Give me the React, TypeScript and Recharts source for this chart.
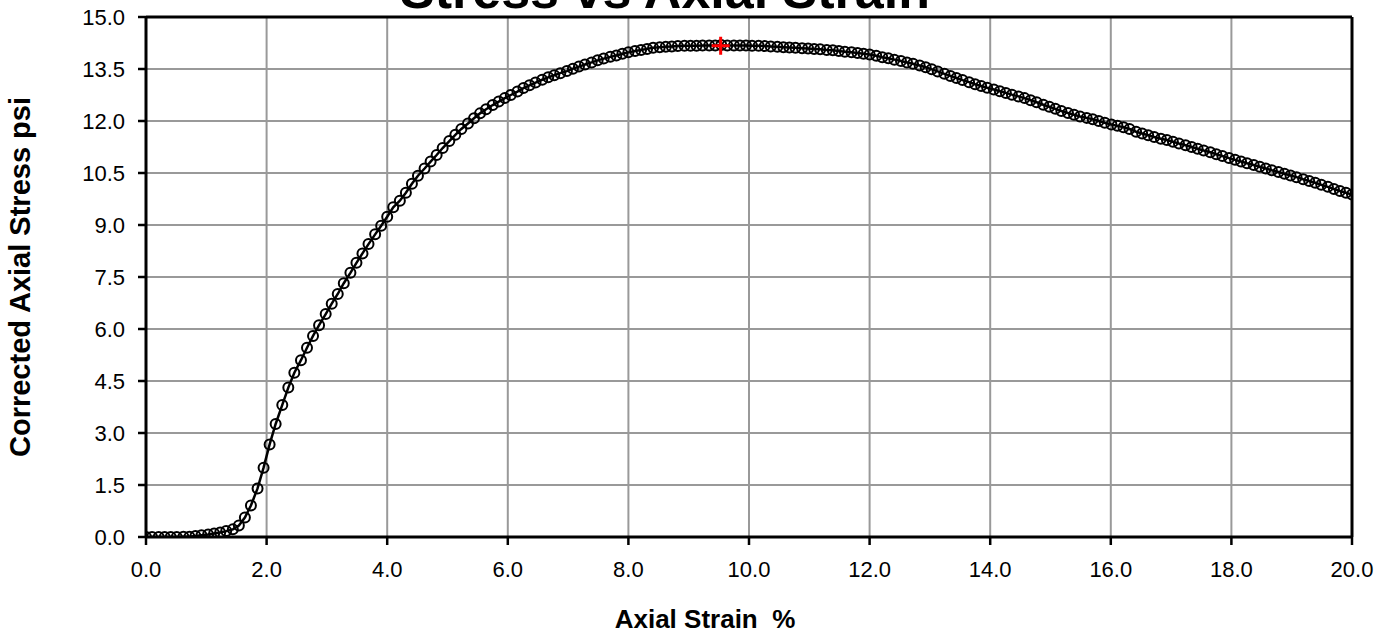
import React from "react";
import {
  ComposedChart, Line, Scatter, XAxis, YAxis, CartesianGrid, ReferenceLine,
} from "recharts";

// strain readings (%)
const STRAIN = [
  0.00, 0.10, 0.21, 0.31, 0.41, 0.51, 0.62, 0.72, 0.82, 0.92,
  1.03, 1.13, 1.23, 1.33, 1.44, 1.54, 1.64, 1.74, 1.85, 1.95,
  2.05, 2.15, 2.26, 2.36, 2.46, 2.57, 2.67, 2.77, 2.87, 2.98,
  3.08, 3.18, 3.28, 3.39, 3.49, 3.59, 3.69, 3.80, 3.90, 4.00,
  4.10, 4.21, 4.31, 4.41, 4.51, 4.62, 4.72, 4.82, 4.92, 5.03,
  5.13, 5.23, 5.34, 5.44, 5.54, 5.64, 5.75, 5.85, 5.95, 6.05,
  6.16, 6.26, 6.36, 6.46, 6.57, 6.67, 6.77, 6.87, 6.98, 7.08,
  7.18, 7.28, 7.39, 7.49, 7.59, 7.70, 7.80, 7.90, 8.00, 8.11,
  8.21, 8.31, 8.41, 8.52, 8.62, 8.72, 8.82, 8.93, 9.03, 9.13,
  9.23, 9.34, 9.44, 9.54, 9.64, 9.75, 9.85, 9.95, 10.05, 10.16,
  10.26, 10.36, 10.47, 10.57, 10.67, 10.77, 10.88, 10.98, 11.08, 11.18,
  11.29, 11.39, 11.49, 11.59, 11.70, 11.80, 11.90, 12.00, 12.11, 12.21,
  12.31, 12.41, 12.52, 12.62, 12.72, 12.83, 12.93, 13.03, 13.13, 13.24,
  13.34, 13.44, 13.54, 13.65, 13.75, 13.85, 13.95, 14.06, 14.16, 14.26,
  14.36, 14.47, 14.57, 14.67, 14.77, 14.88, 14.98, 15.08, 15.18, 15.29,
  15.39, 15.49, 15.60, 15.70, 15.80, 15.90, 16.01, 16.11, 16.21, 16.31,
  16.42, 16.52, 16.62, 16.72, 16.83, 16.93, 17.03, 17.13, 17.24, 17.34,
  17.44, 17.54, 17.65, 17.75, 17.85, 17.96, 18.06, 18.16, 18.26, 18.37,
  18.47, 18.57, 18.67, 18.78, 18.88, 18.98, 19.08, 19.19, 19.29, 19.39,
  19.49, 19.60, 19.70, 19.80, 19.90, 20.00,
];

// corrected axial stress (psi)
const STRESS = [
  0.00, 0.00, 0.00, 0.00, 0.00, 0.00, 0.01, 0.01, 0.03, 0.05,
  0.07, 0.10, 0.13, 0.17, 0.22, 0.33, 0.56, 0.91, 1.40, 2.00,
  2.67, 3.26, 3.81, 4.31, 4.74, 5.10, 5.46, 5.80, 6.11, 6.43,
  6.73, 7.01, 7.32, 7.62, 7.91, 8.18, 8.45, 8.73, 8.98, 9.24,
  9.51, 9.70, 9.93, 10.19, 10.42, 10.63, 10.83, 11.02, 11.22, 11.42,
  11.60, 11.77, 11.93, 12.08, 12.22, 12.34, 12.46, 12.56, 12.66, 12.75,
  12.85, 12.95, 13.03, 13.11, 13.19, 13.26, 13.32, 13.38, 13.44, 13.51,
  13.57, 13.63, 13.69, 13.75, 13.80, 13.85, 13.89, 13.94, 13.98, 14.02,
  14.05, 14.08, 14.11, 14.13, 14.14, 14.15, 14.16, 14.17, 14.17, 14.17,
  14.18, 14.18, 14.18, 14.19, 14.18, 14.18, 14.18, 14.18, 14.17, 14.17,
  14.16, 14.15, 14.14, 14.13, 14.12, 14.11, 14.10, 14.09, 14.08, 14.07,
  14.05, 14.04, 14.02, 14.00, 13.98, 13.96, 13.94, 13.92, 13.88, 13.84,
  13.81, 13.77, 13.73, 13.69, 13.65, 13.60, 13.55, 13.49, 13.43, 13.36,
  13.30, 13.24, 13.18, 13.12, 13.06, 13.01, 12.96, 12.91, 12.86, 12.81,
  12.76, 12.71, 12.66, 12.60, 12.54, 12.47, 12.41, 12.35, 12.29, 12.23,
  12.18, 12.13, 12.09, 12.05, 12.00, 11.95, 11.90, 11.86, 11.82, 11.77,
  11.69, 11.64, 11.59, 11.54, 11.49, 11.45, 11.40, 11.35, 11.30, 11.25,
  11.20, 11.15, 11.10, 11.04, 10.99, 10.93, 10.88, 10.83, 10.78, 10.73,
  10.68, 10.63, 10.58, 10.53, 10.48, 10.43, 10.38, 10.32, 10.27, 10.22,
  10.16, 10.10, 10.04, 9.98, 9.93, 9.88,
];

const PEAK_STRAIN = [9.53];
const PEAK_STRESS = [14.17];

const X_TICKS = [0, 2, 4, 6, 8, 10, 12, 14, 16, 18, 20];
const Y_TICKS = [0, 1.5, 3, 4.5, 6, 7.5, 9, 10.5, 12, 13.5, 15];

const FONT = "'Liberation Sans', Arial, sans-serif";

const curve = STRAIN.map((s, i) => ({ strain: s, stress: STRESS[i] }));
const peak = PEAK_STRAIN.map((s, i) => ({ strain: s, stress: PEAK_STRESS[i] }));

const PlusShape = (props: any) => {
  const { cx, cy } = props;
  return (
    <path
      d={`M${cx - 9},${cy} L${cx + 9},${cy} M${cx},${cy - 9} L${cx},${cy + 9}`}
      stroke="#FF0000"
      strokeWidth={3}
      fill="none"
    />
  );
};

const tickStyle = { fill: "#000", fontSize: 22, fontFamily: FONT };
const AXIS_LINE = { stroke: "#000", strokeWidth: 3 };
const TICK_LINE = { stroke: "#000", strokeWidth: 2.5 };

export default function App() {
  return (
    <div style={{ position: "absolute", left: 0, top: 0, width: 1390, height: 633, background: "#fff" }}>
      <ComposedChart
        width={1390}
        height={633}
        data={curve}
        margin={{ top: 17, right: 38, bottom: 0, left: 0 }}
      >
        <CartesianGrid stroke="#999" strokeWidth={2} />
        <XAxis
          dataKey="strain"
          type="number"
          domain={[0, 20]}
          ticks={X_TICKS}
          tickFormatter={(v: number) => v.toFixed(1)}
          tick={tickStyle}
          tickSize={8}
          tickMargin={16}
          height={96}
          axisLine={AXIS_LINE}
          tickLine={TICK_LINE}
          interval={0}
          allowDataOverflow
        />
        <YAxis
          dataKey="stress"
          type="number"
          domain={[0, 15]}
          ticks={Y_TICKS}
          tickFormatter={(v: number) => v.toFixed(1)}
          tick={tickStyle}
          tickSize={8}
          tickMargin={13}
          width={146}
          axisLine={AXIS_LINE}
          tickLine={TICK_LINE}
          interval={0}
          allowDataOverflow
        />
        <ReferenceLine y={15} stroke="#000" strokeWidth={3} />
        <ReferenceLine x={20} stroke="#000" strokeWidth={3} />
        <Line
          type="linear"
          dataKey="stress"
          stroke="#000"
          strokeWidth={2.5}
          dot={{ r: 5, stroke: "#000", strokeWidth: 2, fill: "none" }}
          activeDot={false}
          isAnimationActive={false}
        />
        <Scatter data={peak} dataKey="stress" shape={PlusShape} isAnimationActive={false} />
      </ComposedChart>
      <svg
        width={1390}
        height={633}
        style={{ position: "absolute", left: 0, top: 0, pointerEvents: "none" }}
      >
        {/* title sits partly above the top edge, as in the source */}
        <text x={665} y={8} textAnchor="middle" fontFamily={FONT} fontWeight="bold" fontSize={52} fill="#000">
          Stress vs Axial Strain
        </text>
        <text x={705} y={628} textAnchor="middle" fontFamily={FONT} fontWeight="bold" fontSize={26} fill="#000" style={{ whiteSpace: "pre" }}>
          Axial Strain  %
        </text>
        <text
          x={0}
          y={0}
          transform="translate(30,277) rotate(-90)"
          textAnchor="middle"
          fontFamily={FONT}
          fontWeight="bold"
          fontSize={29}
          fill="#000"
        >
          Corrected Axial Stress psi
        </text>
      </svg>
    </div>
  );
}
